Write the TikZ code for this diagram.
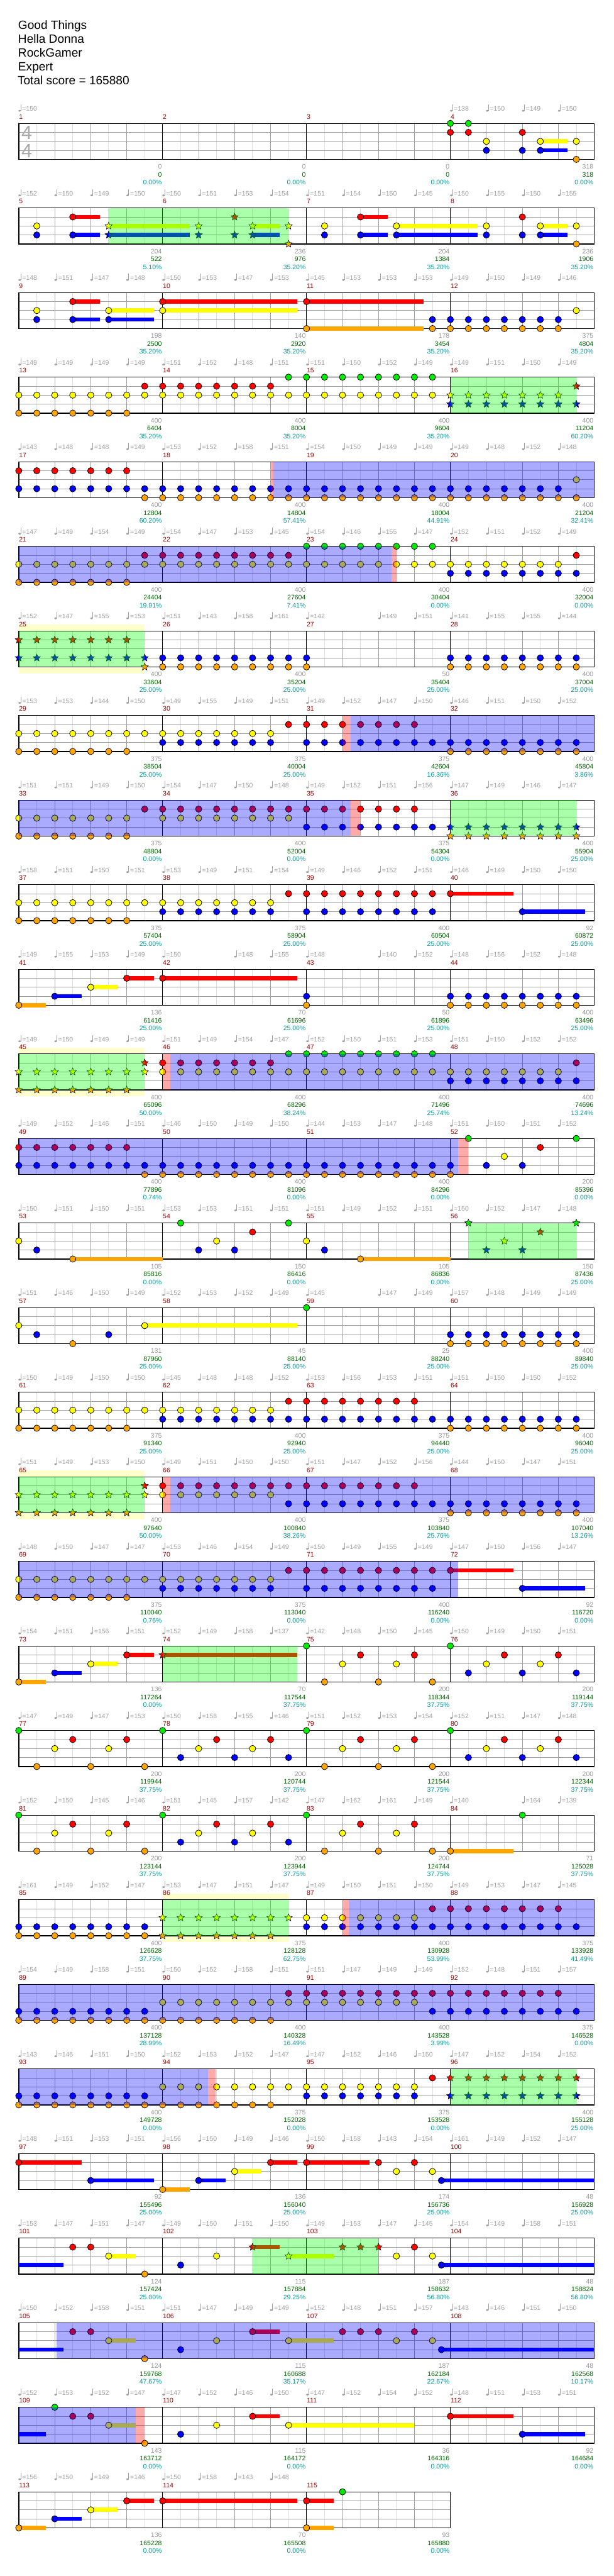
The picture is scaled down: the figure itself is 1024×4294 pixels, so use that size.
\documentclass[tikz,border=0pt]{standalone}
\usepackage{fontspec}
\setmainfont{Liberation Sans}
\usetikzlibrary{shapes.geometric}
\definecolor{l0}{RGB}{0,235,0}
\definecolor{l1}{RGB}{255,0,0}
\definecolor{l2}{RGB}{255,255,0}
\definecolor{l3}{RGB}{0,0,255}
\definecolor{l4}{RGB}{255,165,0}
\definecolor{glight}{RGB}{221,221,221}
\definecolor{gmid}{RGB}{158,158,158}
\definecolor{tcol}{RGB}{160,160,160}
\definecolor{mcol}{RGB}{153,0,0}
\definecolor{scgray}{RGB}{153,153,153}
\definecolor{scgreen}{RGB}{0,102,0}
\definecolor{sccyan}{RGB}{0,153,153}
\definecolor{spyel}{RGB}{255,255,204}
\definecolor{tsig}{RGB}{170,170,170}
\tikzset{
 note/.style={circle,draw=black,line width=0.4pt,inner sep=0pt,minimum size=5.3pt},
 spstar/.style={star,star points=5,star point ratio=2.2,draw=black,line width=0.3pt,inner sep=0pt,minimum size=6.4pt},
 small/.style={font=\fontsize{5.5pt}{6pt}\selectfont,inner sep=0pt},
 tnum/.style={small,text=tcol,anchor=base west},
 mnum/.style={small,text=mcol,anchor=base west},
 sgray/.style={small,text=scgray,anchor=base east},
 sgreen/.style={small,text=scgreen,anchor=base east},
 scyan/.style={small,text=sccyan,anchor=base east},
 head/.style={font=\fontsize{10pt}{12pt}\selectfont,inner sep=0pt,anchor=base west},
 tsg/.style={font=\fontsize{16pt}{15.15pt}\selectfont,text=tsig,anchor=center,inner sep=0pt,align=center},
 gl/.style={glight,line width=0.5pt},
 gq/.style={gmid,line width=0.5pt},
 rowat/.style={xshift=15.667pt,yshift={-102.833pt-70.5pt*#1},x=15pt,y=-7.5pt},
}
\newcommand\stgrid[1]{%
  \fill[white] (0,0) rectangle (#1,4);
  \foreach \xe in {1,3,...,#1} \draw[gl] (\xe,0) -- (\xe,4);
  \foreach \xe in {2,4,...,#1} \draw[gq] (\xe,0) -- (\xe,4);
  \foreach \yl in {1,2,3} \draw[gq] (0,\yl) -- (#1,\yl);
  \foreach \xe in {8,16,...,#1} \draw[black,line width=0.5pt] (\xe,0) -- (\xe,4);
  \draw[black,line width=0.7pt] (0,0) rectangle (#1,4);}
\newcommand\nts[2]{\foreach \xe in {#2} \node[note,fill=l#1] at (\xe,#1) {};}
\newcommand\sts[2]{\foreach \xe in {#2} \node[spstar,fill=l#1] at (\xe,#1) {};}
\newcommand\sus[3]{\fill[l#1] (#2,#1-0.233) rectangle (#3,#1+0.233);}
\newcommand\spg[2]{\fill[green,fill opacity=0.333] (#1,0) rectangle (#2,4);}
\newcommand\spy[2]{\fill[spyel] (#1,-0.7) rectangle (#2,4.72);}
\newcommand\act[2]{\fill[blue,fill opacity=0.333] (#1,0) rectangle (#2,4);}
\newcommand\pnk[2]{\fill[red,fill opacity=0.333] (#1,0) rectangle (#2,4);}
\newcommand\tpmark[2]{%
  \fill[tcol] (#1+0.047,-1.4) ellipse [x radius=1.05pt,y radius=0.75pt];
  \draw[tcol,line width=0.45pt] (#1+0.113,-1.4) -- (#1+0.113,-2.09);
  \node[tnum] at (#1+0.18,-1.353) {=#2};}
\newcommand\tps[1]{\foreach \tv [count=\ti from 0] in {#1} {\ifnum\tv>0 \tpmark{2*\ti}{\tv}\fi}}
\newcommand\mns[1]{\foreach \mv [count=\mj from 0] in {#1} \node[mnum] at (8*\mj,-0.49) {\mv};}
\newcommand\scs[1]{\foreach \ga/\sa/\pa [count=\mj] in {#1} {%
  \node[sgray] at (8*\mj-0.035,5.087) {\ga};
  \node[sgreen] at (8*\mj-0.035,5.95) {\sa};
  \node[scyan] at (8*\mj-0.035,6.81) {\pa\%};}}
\begin{document}
\begin{tikzpicture}[x=0.5pt,y=-0.5pt]
\useasboundingbox (0,0) rectangle (1024,4294);
\fill[white] (0,0) rectangle (1024,4294);
\node[head] (t1) at (30,49) {Good Things};
\node[head] (t2) at (30,72) {Hella Donna};
\node[head] (t3) at (30,95) {RockGamer};
\node[head] (t4) at (30,118) {Expert};
\node[head] (t5) at (29,141) {Total score = 165880};
% row 0
\begin{scope}[rowat=0]
\stgrid{32}
\node[tsg] (ts) at (0.446,2.067) {4\\4};
\sus{2}{29}{30.5}\sus{3}{29}{30.5}
\nts{0}{24,25}\nts{1}{24,25,28}\nts{2}{26,29,31}\nts{3}{26,28,29}\nts{4}{31}
\tps{150,0,0,0,0,0,0,0,0,0,0,0,138,150,149,150}
\mns{1,2,3,4}
\scs{0/0/0.00,0/0/0.00,0/0/0.00,318/318/0.00}
\end{scope}
% row 1
\begin{scope}[rowat=1]
\stgrid{32}
\sus{1}{3}{4.5}\sus{3}{3}{4.5}\sus{2}{5}{9.5}\sus{3}{5}{9.5}\sus{2}{13}{14.5}\sus{3}{13}{14.5}
\sus{1}{19}{20.5}\sus{3}{19}{20.5}\sus{2}{21}{25.5}\sus{3}{21}{25.5}\sus{2}{29}{30.5}\sus{3}{29}{30.5}
\nts{2}{1,17,21,26,29,31}\nts{3}{1,3,17,19,21,26,28,29}\nts{1}{3,19,28}\nts{4}{31}
\sts{2}{5,10,13,15}\sts{3}{5,10,12,13}\sts{1}{12}\sts{4}{15}
\spg{5}{15}
\tps{152,150,149,150,150,151,153,154,151,154,150,145,150,155,150,155}
\mns{5,6,7,8}
\scs{204/522/5.10,236/976/35.20,204/1384/35.20,236/1906/35.20}
\end{scope}
% row 2
\begin{scope}[rowat=2]
\stgrid{32}
\sus{1}{3}{4.5}\sus{3}{3}{4.5}\sus{2}{5}{7.5}\sus{3}{5}{7.5}\sus{1}{8}{15.5}\sus{2}{8}{15.5}\sus{1}{16}{22.5}\sus{4}{16}{22.5}
\nts{2}{1,5,8,31}\nts{3}{1,3,5}\nts{3}{23,...,30}\nts{1}{3,8,16}\nts{4}{16}\nts{4}{23,...,30}
\tps{148,151,147,148,150,153,147,153,145,153,153,153,149,150,149,146}
\mns{9,10,11,12}
\scs{198/2500/35.20,140/2920/35.20,178/3454/35.20,375/4804/35.20}
\end{scope}
% row 3
\begin{scope}[rowat=3]
\stgrid{32}
\nts{2}{0,...,23}\nts{4}{0,...,6}\nts{1}{7,...,14}\nts{0}{15,...,23}
\sts{2}{24,...,30}\sts{3}{24,...,31}\sts{1}{31}
\spg{24}{31}
\tps{149,149,149,149,151,152,148,151,151,150,152,149,149,151,150,149}
\mns{13,14,15,16}
\scs{400/6404/35.20,400/8004/35.20,400/9604/35.20,400/11204/60.20}
\end{scope}
% row 4
\begin{scope}[rowat=4]
\stgrid{32}
\nts{1}{0,...,6}\nts{3}{0,...,30}\nts{4}{7,...,31}\nts{2}{31}
\pnk{14}{14.15}\act{14.15}{32}
\tps{143,148,148,149,153,152,158,151,154,150,149,149,149,148,152,148}
\mns{17,18,19,20}
\scs{400/12804/60.20,400/14804/57.41,400/18004/44.91,400/21204/32.41}
\end{scope}
% row 5
\begin{scope}[rowat=5]
\stgrid{32}
\nts{2}{0,...,30}\nts{4}{0,...,6}\nts{1}{7,...,15}\nts{1}{31}\nts{0}{16,...,23}\nts{3}{24,...,31}
\act{0}{20.74}\pnk{20.74}{21}
\tps{147,149,154,149,154,147,153,145,154,146,155,147,152,151,152,149}
\mns{21,22,23,24}
\scs{400/24404/19.91,400/27604/7.41,400/30404/0.00,400/32004/0.00}
\end{scope}
% row 6
\begin{scope}[rowat=6]
\spy{0}{7}
\stgrid{32}
\sts{1}{0,...,6}\sts{3}{0,...,7}\sts{4}{7}
\nts{3}{8,...,16}\nts{3}{24,...,31}\nts{4}{8,...,16}\nts{4}{24,...,31}
\spg{0}{7}
\tps{152,147,155,153,151,143,158,161,142,0,149,151,141,155,155,144}
\mns{25,26,27,28}
\scs{400/33604/25.00,400/35204/25.00,50/35404/25.00,400/37004/25.00}
\end{scope}
% row 7
\begin{scope}[rowat=7]
\stgrid{32}
\nts{2}{0,...,14}\nts{4}{0,...,6}\nts{4}{24,...,31}\nts{3}{8,...,14}\nts{3}{16,...,31}\nts{1}{15,...,22}
\pnk{18}{18.45}\act{18.45}{32}
\tps{153,153,144,150,149,155,149,151,149,152,147,150,146,151,150,152}
\mns{29,30,31,32}
\scs{375/38504/25.00,375/40004/25.00,375/42604/16.36,400/45804/3.86}
\end{scope}
% row 8
\begin{scope}[rowat=8]
\stgrid{32}
\nts{2}{0,...,6}\nts{2}{8,...,15}\nts{4}{0,...,6}\nts{1}{7,...,22}\nts{3}{16,...,23}
\act{0}{18.45}\pnk{18.45}{19}
\sts{3}{24,...,31}\sts{4}{24,...,31}
\spg{24}{31}
\tps{151,151,149,150,154,147,150,148,149,152,151,156,147,149,146,147}
\mns{33,34,35,36}
\scs{375/48804/0.00,400/52004/0.00,375/54304/0.00,400/55904/25.00}
\end{scope}
% row 9
\begin{scope}[rowat=9]
\stgrid{32}
\sus{1}{24}{27.5}\sus{3}{28}{31.5}
\nts{2}{0,...,14}\nts{4}{0,...,6}\nts{3}{8,...,14}\nts{3}{16,...,23}\nts{3}{28}\nts{1}{15,...,24}
\tps{158,151,150,151,153,149,151,154,149,146,152,151,146,149,150,150}
\mns{37,38,39,40}
\scs{375/57404/25.00,375/58904/25.00,400/60504/25.00,92/60872/25.00}
\end{scope}
% row 10
\begin{scope}[rowat=10]
\stgrid{32}
\sus{4}{0}{1.5}\sus{3}{2}{3.5}\sus{2}{4}{5.5}\sus{1}{6}{7.5}\sus{1}{8}{15.5}
\nts{4}{0,16}\nts{4}{24,...,31}\nts{3}{2,16}\nts{3}{24,...,31}\nts{2}{4}\nts{1}{6,8}
\tps{149,155,153,149,150,0,148,155,148,0,140,152,148,156,152,148}
\mns{41,42,43,44}
\scs{136/61416/25.00,70/61696/25.00,50/61896/25.00,400/63496/25.00}
\end{scope}
% row 11
\begin{scope}[rowat=11]
\spy{0}{7}
\stgrid{32}
\sts{2}{0,...,7}\sts{4}{0,...,6}\sts{1}{7}
\spg{0}{7}
\nts{1}{8,...,14}\nts{1}{31}\nts{2}{8,...,30}\nts{0}{15,...,23}\nts{3}{24,...,31}
\pnk{8}{8.43}\act{8.43}{32}
\tps{149,150,149,149,151,149,154,147,152,150,151,153,151,150,152,152}
\mns{45,46,47,48}
\scs{400/65096/50.00,400/68296/38.24,400/71496/25.74,400/74696/13.24}
\end{scope}
% row 12
\begin{scope}[rowat=12]
\stgrid{32}
\nts{1}{0,...,6}\nts{1}{29}\nts{3}{0,...,24}\nts{3}{26,28}\nts{4}{7,...,24}\nts{0}{25,31}\nts{2}{27}
\act{0}{24.44}\pnk{24.44}{25}
\tps{149,152,146,151,146,150,149,150,144,153,147,148,151,150,151,152}
\mns{49,50,51,52}
\scs{400/77896/0.74,400/81096/0.00,400/84296/0.00,200/85396/0.00}
\end{scope}
% row 13
\begin{scope}[rowat=13]
\stgrid{32}
\sus{4}{3}{8}\sus{4}{19}{24}
\nts{2}{0,11,16}\nts{3}{1,10,12,17}\nts{4}{3,19}\nts{0}{9,15}\nts{1}{13}
\sts{0}{25,31}\sts{3}{26,28}\sts{2}{27}\sts{1}{29}
\spg{25}{31}
\tps{150,151,150,151,153,153,151,151,151,149,152,151,150,152,147,148}
\mns{53,54,55,56}
\scs{105/85816/0.00,150/86416/0.00,105/86836/0.00,150/87436/25.00}
\end{scope}
% row 14
\begin{scope}[rowat=14]
\stgrid{32}
\sus{2}{7}{15.5}
\nts{2}{0,7}\nts{3}{1,5}\nts{3}{24,...,31}\nts{4}{3}\nts{4}{24,...,31}\nts{0}{16}
\tps{151,146,150,149,152,153,152,149,145,0,147,149,157,148,149,149}
\mns{57,58,59,60}
\scs{131/87960/25.00,45/88140/25.00,25/88240/25.00,400/89840/25.00}
\end{scope}
% row 15
\begin{scope}[rowat=15]
\stgrid{32}
\nts{2}{0,...,14}\nts{4}{0,...,6}\nts{4}{24,...,31}\nts{3}{8,...,31}\nts{1}{15,...,22}
\tps{150,149,150,150,145,148,148,152,153,156,153,151,151,150,150,152}
\mns{61,62,63,64}
\scs{375/91340/25.00,400/92940/25.00,375/94440/25.00,400/96040/25.00}
\end{scope}
% row 16
\begin{scope}[rowat=16]
\spy{0}{7}
\stgrid{32}
\sts{2}{0,...,7}\sts{4}{0,...,6}\sts{1}{7}
\spg{0}{7}
\nts{1}{8,...,22}\nts{2}{8,...,14}\nts{3}{15,...,31}\nts{4}{24,...,31}
\pnk{8}{8.43}\act{8.43}{32}
\tps{151,149,153,150,149,151,150,150,151,147,152,156,144,150,147,151}
\mns{65,66,67,68}
\scs{400/97640/50.00,400/100840/38.26,375/103840/25.76,400/107040/13.26}
\end{scope}
% row 17
\begin{scope}[rowat=17]
\stgrid{32}
\sus{1}{24}{27.5}\sus{3}{28}{31.5}
\nts{2}{0,...,14}\nts{4}{0,...,6}\nts{3}{8,...,14}\nts{3}{16,...,23}\nts{3}{28}\nts{1}{15,...,24}
\act{0}{24.44}
\tps{148,150,147,147,153,146,154,149,150,149,155,149,147,150,156,147}
\mns{69,70,71,72}
\scs{375/110040/0.76,375/113040/0.00,400/116240/0.00,92/116720/0.00}
\end{scope}
% row 18
\begin{scope}[rowat=18]
\stgrid{32}
\sus{4}{0}{1.5}\sus{3}{2}{3.5}\sus{2}{4}{5.5}\sus{1}{6}{7.5}\sus{1}{8}{15.5}
\nts{4}{0,17,20,23}\nts{3}{2,25,28,31}\nts{2}{4,18,21,26,29}\nts{1}{6,19,22,27,30}\nts{0}{16,24}
\sts{1}{8}
\spg{8}{15.5}
\tps{154,151,156,151,152,149,158,137,142,148,150,145,150,149,150,151}
\mns{73,74,75,76}
\scs{136/117264/0.00,70/117544/37.75,200/118344/37.75,200/119144/37.75}
\end{scope}
% row 19
\begin{scope}[rowat=19]
\stgrid{32}
\nts{0}{0,8,16,24}\nts{4}{1,4,7,17,20,23}\nts{2}{2,5,10,13,18,21,26,29}\nts{1}{3,6,11,14,19,22,27,30}\nts{3}{9,12,15,25,28,31}
\tps{147,149,147,153,150,158,155,146,151,152,153,154,152,151,147,148}
\mns{77,78,79,80}
\scs{200/119944/37.75,200/120744/37.75,200/121544/37.75,200/122344/37.75}
\end{scope}
% row 20
\begin{scope}[rowat=20]
\stgrid{32}
\sus{4}{24}{27.5}
\nts{0}{0,8,16,28}\nts{4}{1,4,7,17,20,23,24}\nts{2}{2,5,10,13,18,21}\nts{1}{3,6,11,14,19,22}\nts{3}{9,12,15}
\tps{152,150,145,146,151,145,157,142,147,162,161,149,140,0,164,139}
\mns{81,82,83,84}
\scs{200/123144/37.75,200/123944/37.75,200/124744/37.75,71/125028/37.75}
\end{scope}
% row 21
\begin{scope}[rowat=21]
\spy{8}{15}
\stgrid{32}
\nts{3}{0,...,7}\nts{3}{16,...,31}\nts{4}{0,...,7}\nts{2}{16,...,22}\nts{1}{23,...,30}
\sts{2}{8,...,15}\sts{4}{8,...,14}
\spg{8}{15}
\pnk{18}{18.35}\act{18.35}{32}
\tps{161,149,152,147,153,147,151,147,149,150,151,150,149,153,147,145}
\mns{85,86,87,88}
\scs{400/126628/37.75,375/128128/62.75,400/130928/53.99,375/133928/41.49}
\end{scope}
% row 22
\begin{scope}[rowat=22]
\stgrid{32}
\nts{3}{0,...,7}\nts{3}{23,...,31}\nts{4}{0,...,14}\nts{2}{8,...,22}\nts{1}{15,...,30}
\act{0}{32}
\tps{154,149,158,151,150,152,158,151,151,147,149,149,152,148,151,157}
\mns{89,90,91,92}
\scs{400/137128/28.99,400/140328/16.49,400/143528/3.99,375/146528/0.00}
\end{scope}
% row 23
\begin{scope}[rowat=23]
\stgrid{32}
\nts{3}{0,...,7}\nts{3}{16,...,22}\nts{4}{0,...,14}\nts{2}{8,...,22}\nts{1}{23}
\act{0}{10.52}\pnk{10.52}{10.94}
\sts{1}{24,...,31}\sts{3}{24,...,31}
\spg{24}{31}
\tps{143,146,151,150,152,153,152,147,147,152,146,150,147,152,154,152}
\mns{93,94,95,96}
\scs{400/149728/0.00,375/152028/0.00,375/153528/0.00,400/155128/25.00}
\end{scope}
% row 24
\begin{scope}[rowat=24]
\stgrid{32}
\sus{1}{0}{3.5}\sus{3}{4}{7.5}\sus{4}{8}{9.5}\sus{3}{10}{11.5}\sus{2}{12}{13.5}\sus{1}{14}{15.5}\sus{1}{16}{19.5}\sus{3}{23.5}{32}
\nts{1}{0,14,16,20,22}\nts{3}{4,10,23.5}\nts{4}{8}\nts{2}{12,21,23}
\tps{148,151,153,151,156,150,149,146,150,158,143,154,161,149,152,147}
\mns{97,98,99,100}
\scs{92/155496/25.00,136/156040/25.00,174/156736/25.00,48/156928/25.00}
\end{scope}
% row 25
\begin{scope}[rowat=25]
\stgrid{32}
\sus{3}{0}{2.5}\sus{2}{5}{6.5}\sus{1}{13}{14.5}\sus{2}{15}{17.5}\sus{3}{23.5}{32}
\nts{1}{3,4,22}\nts{2}{5,11,21,23}\nts{4}{7}\nts{3}{9,23.5}
\sts{1}{13,18,19,20}\sts{2}{15}
\spg{13}{20}
\tps{153,147,151,147,149,150,151,150,149,153,147,145,154,149,158,151}
\mns{101,102,103,104}
\scs{124/157424/25.00,115/157884/29.25,187/158632/56.80,48/158824/56.80}
\end{scope}
% row 26
\begin{scope}[rowat=26]
\stgrid{32}
\sus{3}{0}{2.5}\sus{2}{5}{6.5}\sus{1}{13}{14.5}\sus{2}{15}{17.5}\sus{3}{23.5}{32}
\nts{1}{3,4,13,18,19,20,22}\nts{2}{5,11,15,21,23}\nts{4}{7}\nts{3}{9,23.5}
\act{2.11}{32}
\tps{150,152,158,151,151,147,149,149,152,148,151,157,143,146,151,150}
\mns{105,106,107,108}
\scs{124/159768/47.67,115/160688/35.17,187/162184/22.67,48/162568/10.17}
\end{scope}
% row 27
\begin{scope}[rowat=27]
\stgrid{32}
\sus{3}{0}{1.5}\sus{2}{5}{6.5}\sus{1}{13}{14.5}\sus{2}{15}{22}\sus{1}{24}{27.5}\sus{3}{28}{31.5}
\nts{0}{2}\nts{1}{3,4,13,24}\nts{2}{5,11,15}\nts{4}{7}\nts{3}{9,28}
\act{0}{6.5}\pnk{6.5}{7}
\tps{152,153,152,147,147,152,146,150,147,152,154,152,148,151,153,151}
\mns{109,110,111,112}
\scs{143/163712/0.00,115/164172/0.00,36/164316/0.00,92/164684/0.00}
\end{scope}
% row 28
\begin{scope}[rowat=28]
\stgrid{24}
\sus{4}{0}{1.5}\sus{3}{2}{3.5}\sus{2}{4}{5.5}\sus{1}{6}{7.5}\sus{1}{8}{15.5}\sus{1}{16}{17.5}\sus{4}{16}{17.5}
\nts{4}{0,16}\nts{3}{2}\nts{2}{4}\nts{1}{6,8,16}\nts{0}{18}
\tps{156,150,149,146,150,158,143,148}
\mns{113,114,115}
\scs{136/165228/0.00,70/165508/0.00,93/165880/0.00}
\end{scope}
\end{tikzpicture}
\end{document}
